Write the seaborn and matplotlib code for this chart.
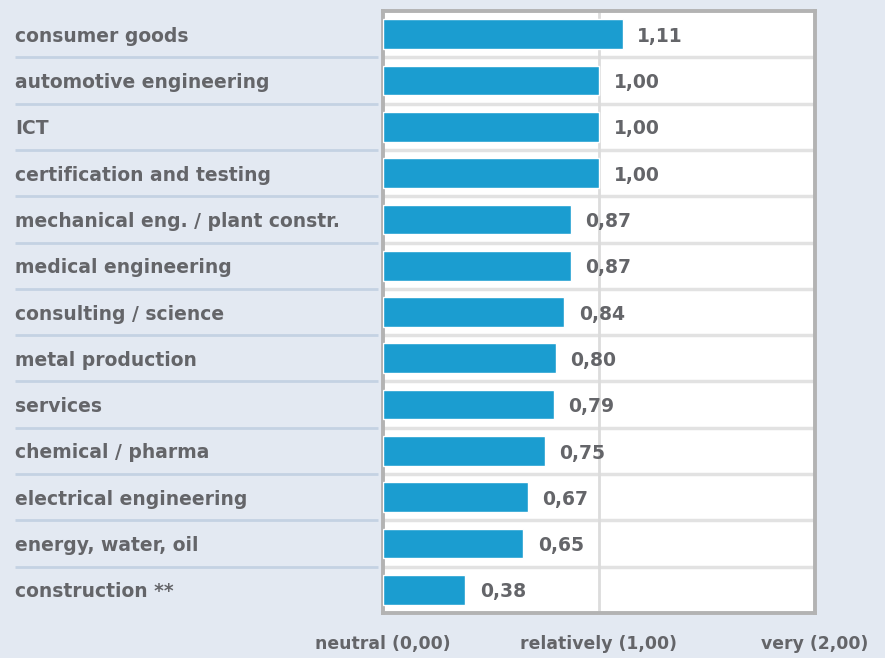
import matplotlib
matplotlib.use("Agg")
import matplotlib.pyplot as plt
import matplotlib.transforms as mtransforms
import seaborn as sns
import pandas as pd

# Data
categories = [
    "consumer goods",
    "automotive engineering",
    "ICT",
    "certification and testing",
    "mechanical eng. / plant constr.",
    "medical engineering",
    "consulting / science",
    "metal production",
    "services",
    "chemical / pharma",
    "electrical engineering",
    "energy, water, oil",
    "construction **",
]
values = [1.11, 1.00, 1.00, 1.00, 0.87, 0.87, 0.84, 0.80, 0.79, 0.75, 0.67, 0.65, 0.38]
tick_values = [0, 1, 2]
tick_labels = ["neutral (0,00)", "relatively (1,00)", "very (2,00)"]

df = pd.DataFrame({"sector": categories, "value": values})

BG = "#e3e9f2"
BAR = "#1b9dd0"
TEXT = "#646569"

sns.set_style("white")
plt.rcParams["font.family"] = ["DejaVu Sans"]

W, H = 885, 658
fig = plt.figure(figsize=(W / 100, H / 100), dpi=100, facecolor=BG)
ax = fig.add_axes([383 / W, 1 - 613 / H, (815 - 383) / W, (613 - 11) / H])
ax.set_facecolor("white")

sns.barplot(data=df, x="value", y="sector", orient="h", color=BAR, width=0.64,
            saturation=1, ax=ax, zorder=3)

ax.set_xlim(0, 2)
ax.set_ylim(len(categories) - 0.5, -0.5)

# row separators inside the plot, plus the "relatively" line
for i in range(len(categories) - 1):
    ax.axhline(i + 0.5, color="#e2e2e2", lw=2.5, zorder=1)
ax.axvline(1, color="#dcdcdc", lw=2, zorder=1)

# frame
for s in ax.spines.values():
    s.set_visible(True)
    s.set_color("#b3b3b3")
    s.set_linewidth(2.8)

# value labels with comma decimals, sitting a touch below the bar centre
texts = ax.bar_label(ax.containers[0], labels=[f"{v:.2f}".replace(".", ",") for v in values],
                     padding=10.5, fontsize=13.5, fontweight="bold", color=TEXT)
for t in texts:
    t.set_verticalalignment("center")
    t.xyann = (t.xyann[0], -1.5)

# category labels, left aligned at the figure edge
ax.set_ylabel("")
ax.set_xlabel("")
ax.tick_params(axis="y", length=0, pad=(383 - 15) * 0.72)
for lbl in ax.get_yticklabels():
    lbl.set_horizontalalignment("left")
    lbl.set_fontsize(13.5)
    lbl.set_fontweight("bold")
    lbl.set_color(TEXT)

# separator lines under the category labels
trans = mtransforms.blended_transform_factory(fig.transFigure, ax.transData)
for i in range(len(categories) - 1):
    ax.plot([15 / W, 378 / W], [i + 0.5, i + 0.5], transform=trans, color="#c4d2e3",
            lw=2, clip_on=False, solid_capstyle="butt")

ax.set_xticks(tick_values)
ax.set_xticklabels(tick_labels, fontsize=12.4, fontweight="bold", color=TEXT)
ax.tick_params(axis="x", length=0, pad=(645 - 613) * 0.72 - 7)

fig.savefig("out.png", dpi=100, facecolor=BG)
